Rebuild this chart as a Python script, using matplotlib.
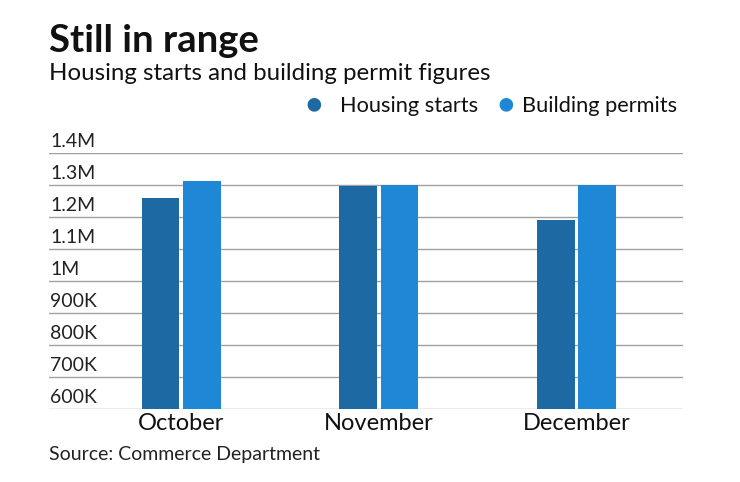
#!/usr/bin/python3
# coding: utf-8

'''
Still in range: housing starts vs building permits, grouped bars
'''

import matplotlib
matplotlib.use('Agg')
import matplotlib.pyplot as plt
import numpy as np

months = ['October', 'November', 'December']
housing_starts = [1_260_000, 1_297_000, 1_192_000]
building_permits = [1_314_000, 1_300_000, 1_300_000]
y_ticks = [600_000, 700_000, 800_000, 900_000, 1_000_000,
           1_100_000, 1_200_000, 1_300_000, 1_400_000]
y_tick_labels = ['600K', '700K', '800K', '900K', '1M',
                 '1.1M', '1.2M', '1.3M', '1.4M']

DARK = '#1c69a4'
LIGHT = '#1f88d6'
FONT = 'Lato'

plt.rcParams['font.family'] = [FONT, 'DejaVu Sans']

fig = plt.figure(figsize=(7.4, 4.82), dpi=100)
ax = fig.add_axes([0.0662, 0.1515, 0.857, 0.531])

xs = np.arange(len(months))
width = 0.19
gap = 0.02
ax.bar(xs - (width + gap) / 2, housing_starts, width=width, color=DARK, zorder=3)
ax.bar(xs + (width + gap) / 2, building_permits, width=width, color=LIGHT, zorder=3)

ax.set_xlim(-0.67, 2.54)
ax.set_ylim(y_ticks[0], y_ticks[-1])

# gridlines with labels sitting just above them
for val, lab in zip(y_ticks, y_tick_labels):
    ax.axhline(val, color='#a0a0a0', lw=1.0, zorder=1)
    ax.text(0.002, val + 8_000, lab, transform=ax.get_yaxis_transform(),
            ha='left', va='bottom', fontsize=14, color='#222222')

ax.set_yticks([])
ax.set_xticks(xs)
ax.set_xticklabels(months, fontsize=17, color='#111111')
ax.tick_params(axis='x', length=0, pad=3)
for s in ax.spines.values():
    s.set_visible(False)

fig.text(0.066, 0.915, 'Still in range', fontsize=27.5, fontweight='bold',
         color='#111111', ha='left', va='center')
fig.text(0.066, 0.848, 'Housing starts and building permit figures',
         fontsize=17.3, color='#111111', ha='left', va='center')

# legend row
fig.text(0.413, 0.783, '\u25cf', fontsize=20, color=DARK, ha='left', va='center')
fig.text(0.459, 0.78, 'Housing starts', fontsize=15.7, color='#111111',
         ha='left', va='center')
fig.text(0.672, 0.783, '\u25cf', fontsize=20, color=LIGHT, ha='left', va='center')
fig.text(0.705, 0.78, 'Building permits', fontsize=15.7, color='#111111',
         ha='left', va='center')

fig.text(0.066, 0.058, 'Source: Commerce Department', fontsize=14,
         color='#222222', ha='left', va='center')

plt.savefig('out.png', dpi=100)
plt.close()
